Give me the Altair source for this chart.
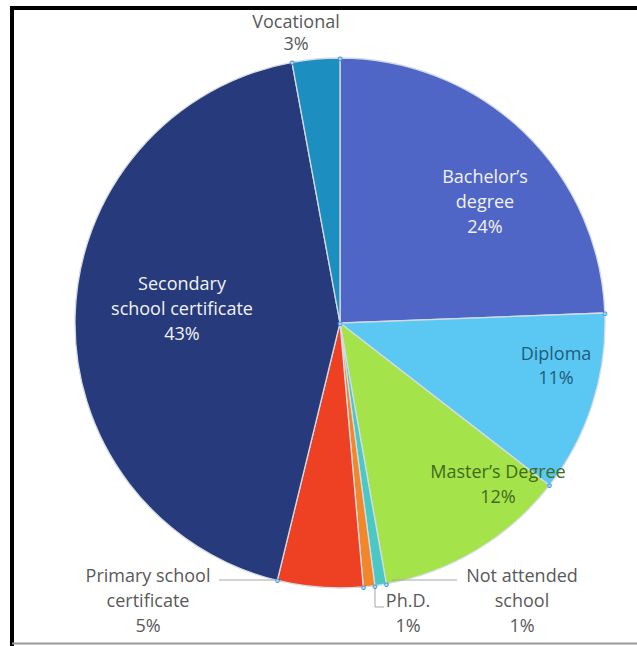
import altair as alt
import pandas as pd
import numpy as np

# ---- data ----
categories = ["Bachelor’s degree", "Diploma", "Master’s Degree", "Not attended school",
              "Ph.D.", "Primary school certificate", "Secondary school certificate", "Vocational"]
shares = [24.4, 11.1, 11.7, 0.7, 0.7, 5.2, 43.3, 2.9]
pct_labels = ["24%", "11%", "12%", "1%", "1%", "5%", "43%", "3%"]
colors = ["#5066c6", "#5ac8f2", "#a5e34b", "#4cc8c4", "#f2862a", "#ee4022", "#263a7c", "#1c8ec0"]

df = pd.DataFrame({"cat": categories, "value": shares, "idx": list(range(len(shares)))})
bounds = pd.DataFrame({"cum": np.concatenate([[0.0], np.cumsum(shares)[:-1]])})

W, H = 637, 646
CX, CY, R = 340, 323, 265
FONT = "Open Sans"
FS = 18

theta_scale = alt.Scale(domain=[0, 100])

pie = alt.Chart(df).mark_arc(outerRadius=R, stroke="#d4dbe3", strokeWidth=1.3).encode(
    theta=alt.Theta("value:Q", stack=True, scale=theta_scale),
    order=alt.Order("idx:Q"),
    color=alt.Color("cat:N", scale=alt.Scale(domain=categories, range=colors), legend=None),
    x=alt.value(CX), y=alt.value(CY),
)

handles = alt.Chart(bounds).mark_text(
    text="●", radius=R, fontSize=8.5, fill="#a9dcf6", stroke="#3d8fd6", strokeWidth=0.8,
    align="center", baseline="middle",
).encode(
    theta=alt.Theta("cum:Q", stack=False, scale=theta_scale),
    x=alt.value(CX), y=alt.value(CY),
)

center_handle = alt.Chart(bounds.head(1)).mark_text(
    text="●", fontSize=8.5, fill="#a9dcf6", stroke="#3d8fd6", strokeWidth=0.8,
    align="center", baseline="middle",
).encode(x=alt.value(CX), y=alt.value(CY))

# label layout: (lines, x, y of first line, line height, color)
label_layout = [
    (["Vocational", pct_labels[7]], 296, 23, 22, "#595959"),
    (["Bachelor’s", "degree", pct_labels[0]], 485, 178, 25, "#f2f2f2"),
    (["Secondary", "school certificate", pct_labels[6]], 182, 285, 25, "#f2f2f2"),
    (["Diploma", pct_labels[1]], 556, 355, 24, "#1f5c7c"),
    (["Master’s Degree", pct_labels[2]], 498, 473, 25, "#3e6b1e"),
    (["Primary school", "certificate", pct_labels[5]], 148, 577, 25, "#595959"),
    (["Ph.D.", pct_labels[4]], 408, 602, 25, "#595959"),
    (["Not attended", "school", pct_labels[3]], 522, 577, 25, "#595959"),
]

label_layers = []
for lines, lx, ly, lh, col in label_layout:
    label_layers.append(
        alt.Chart(bounds.head(1)).mark_text(
            font=FONT, fontSize=FS, color=col, align="center", baseline="middle",
            lineHeight=lh,
        ).encode(x=alt.value(lx), y=alt.value(ly), text=alt.value(lines))
    )

def rule(x1, y1, x2, y2, color, width):
    return alt.Chart(bounds.head(1)).mark_rule(color=color, strokeWidth=width).encode(
        x=alt.value(x1), x2=alt.value(x2), y=alt.value(y1), y2=alt.value(y2)
    )

leaders = [
    rule(219, 580, 277, 580, "#a6a6a6", 1),
    rule(392, 580, 457, 580, "#a6a6a6", 1),
    rule(375, 586, 375, 607, "#a6a6a6", 1),
    rule(375, 607, 384, 607, "#a6a6a6", 1),
]

frame = [
    rule(12, 6, 12, 646, "#000000", 4),
    rule(10, 8, 637, 8, "#000000", 4),
    rule(12, 643.5, 637, 643.5, "#9a9a9a", 2),
]

chart = alt.layer(pie, *leaders, *label_layers, handles, center_handle, *frame).properties(
    width=W, height=H, padding=0, autosize=alt.AutoSizeParams(type="none"),
    background="white",
).configure_view(stroke=None)

chart.save("out.html", embed_options={"renderer": "svg", "actions": False})
